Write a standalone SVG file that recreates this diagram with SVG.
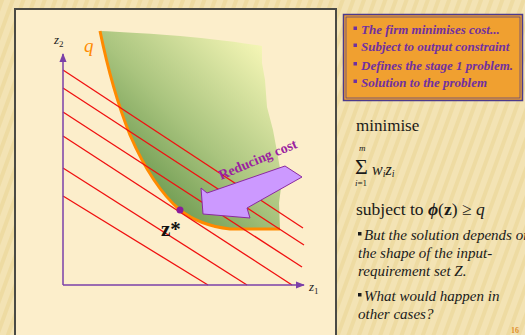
<svg xmlns="http://www.w3.org/2000/svg" width="525" height="335" viewBox="0 0 525 335">
<defs>
<pattern id="stripes" width="10" height="10" patternUnits="userSpaceOnUse" patternTransform="rotate(20)">
<rect width="10" height="10" fill="#F3E3B4"/>
<rect width="4" height="10" fill="#EEDBA2"/>
</pattern>
<linearGradient id="green" x1="0.15" y1="0.85" x2="0.9" y2="0.05">
<stop offset="0" stop-color="#5E8F45"/>
<stop offset="0.45" stop-color="#A9C47E"/>
<stop offset="1" stop-color="#F8F8B8"/>
</linearGradient>
<marker id="ah" viewBox="0 0 10 10" refX="9" refY="5" markerWidth="6" markerHeight="6" orient="auto">
<path d="M0,1 L10,5 L0,9 Z" fill="#7B3FA8"/>
</marker>
<style>
.serif{font-family:"Liberation Serif","Times New Roman",serif;}
.red{stroke:#F01010;stroke-width:1.3;fill:none;}
.box{font-family:"Liberation Serif","Times New Roman",serif;font-style:italic;font-weight:bold;font-size:13px;fill:#7030A0;}
.rt{font-family:"Liberation Serif","Times New Roman",serif;fill:#1a1a1a;}
.it{font-family:"Liberation Serif","Times New Roman",serif;font-style:italic;font-size:15px;fill:#1a1a1a;}
</style>
</defs>
<rect width="525" height="335" fill="url(#stripes)"/>
<rect x="15" y="9" width="321" height="330" fill="#FCEECB" stroke="#4A4A44" stroke-width="2"/>

<g id="region">
<path d="M100,31 C140,33 200,36 262,46 L262,63 L265,80 L267,107 L273,130 L278,157 L282,180 L279,203 L280,229 L230,229 C205,226 190,218 180,210 C160,193 143,165 130,135 C118,105 108,70 100,31 Z" fill="url(#green)"/>
<path d="M100,31 C108,70 118,105 130,135 C143,165 160,193 180,210 C190,218 205,226 230,229 L280,229" fill="none" stroke="#FF8A00" stroke-width="3"/>
<text x="84" y="52" class="serif" font-style="italic" font-size="19" fill="#FF8A00">q</text>
</g>

<g id="isocost">
<line class="red" x1="63" y1="70" x2="303" y2="228"/>
<line class="red" x1="63" y1="88" x2="304" y2="245"/>
<line class="red" x1="63" y1="112" x2="302" y2="267"/>
<line class="red" x1="63" y1="136" x2="292" y2="285" stroke-width="2"/>
<line class="red" x1="63" y1="168" x2="247" y2="285"/>
<line class="red" x1="63" y1="196" x2="208" y2="285"/>
</g>

<g id="axes">
<line x1="63" y1="285" x2="63" y2="54" stroke="#7B3FA8" stroke-width="1.5" marker-end="url(#ah)"/>
<line x1="63" y1="285" x2="304" y2="285" stroke="#7B3FA8" stroke-width="1.5" marker-end="url(#ah)"/>
<text x="54" y="44" class="serif" font-style="italic" font-size="13" fill="#222">z<tspan font-size="9" dy="3" font-style="normal">2</tspan></text>
<text x="309" y="291" class="serif" font-style="italic" font-size="13" fill="#222">z<tspan font-size="9" dy="3" font-style="normal">1</tspan></text>
</g>

<g id="zstar">
<circle cx="180" cy="210" r="3.5" fill="#8B1A9B"/>
<text x="161" y="236" class="serif" font-weight="bold" font-size="21" fill="#111">z*</text>
</g>

<g id="arrow">
<path d="M285,166 L302,177 L247,208 L250,218 L203,214 L201,188 L207,193 Z" fill="#CC99FF" stroke="#8B2AA0" stroke-width="1"/>
<text x="0" y="0" class="serif" font-weight="bold" font-size="14" fill="#9B1FA0" transform="translate(221,180) rotate(-23)">Reducing cost</text>
</g>

<g id="infobox">
<rect x="343.5" y="14.5" width="179" height="86" fill="#F0A030" stroke="#4B3A8C" stroke-width="1.5"/>
<rect x="346" y="17" width="174" height="81" fill="none" stroke="#4B3A8C" stroke-width="0.7"/>
<g fill="#7030A0">
<rect x="353.5" y="26.5" width="3.5" height="3.5"/>
<rect x="353.5" y="43.5" width="3.5" height="3.5"/>
<rect x="353.5" y="62" width="3.5" height="3.5"/>
<rect x="353.5" y="79.5" width="3.5" height="3.5"/>
</g>
<text x="361" y="33.5" class="box">The firm minimises cost...</text>
<text x="361" y="50.5" class="box">Subject to output constraint</text>
<text x="361" y="69.5" class="box">Defines the stage 1 problem.</text>
<text x="361" y="87" class="box">Solution to the  problem</text>
</g>

<g id="formula">
<text x="356" y="131" class="rt" font-size="17">minimise</text>
<text x="359" y="151" class="rt" font-style="italic" font-size="9">m</text>
<text x="355" y="174" class="rt" font-size="22">Σ</text>
<text x="355" y="186" class="rt" font-style="italic" font-size="9">i<tspan font-style="normal">=1</tspan></text>
<text x="372" y="175" class="rt" font-style="italic" font-size="16">w<tspan font-size="10" dy="2">i</tspan><tspan dy="-2">z</tspan><tspan font-size="10" dy="2">i</tspan></text>
<text x="356" y="215" class="rt" font-size="17.5">subject to <tspan font-weight="bold" font-style="italic">ϕ</tspan>(<tspan font-weight="bold">z</tspan>) ≥ <tspan font-style="italic">q</tspan></text>
</g>

<g id="notes">
<rect x="358" y="232" width="3.5" height="3.5" fill="#1a1a1a"/>
<text x="364" y="240" class="it">But the solution depends on</text>
<text x="358" y="258" class="it">the shape of the input-</text>
<text x="358" y="276" class="it">requirement set Z.</text>
<rect x="358" y="293" width="3.5" height="3.5" fill="#1a1a1a"/>
<text x="364" y="301" class="it">What would happen in</text>
<text x="358" y="319" class="it">other cases?</text>
<text x="511" y="333" font-family="Liberation Serif,serif" font-weight="bold" font-size="8" fill="#E0902A">16</text>
</g>
</svg>
